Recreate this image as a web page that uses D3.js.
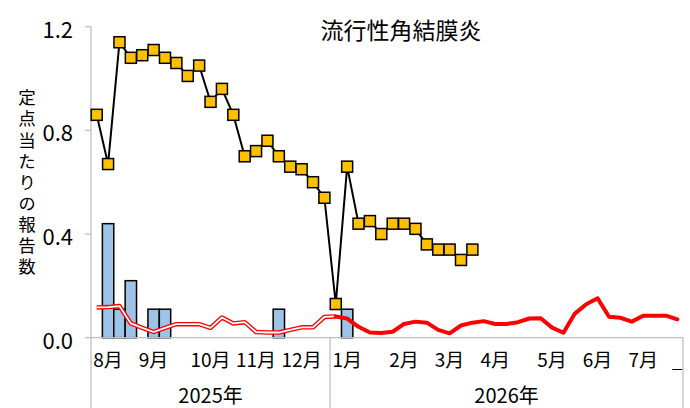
<!DOCTYPE html>
<html>
<head>
<meta charset="utf-8">
<script src="https://cdn.jsdelivr.net/npm/d3@7"></script>
<style>
  html, body { margin: 0; padding: 0; background: #fff; }
  svg { display: block; }
  text { font-family: "Noto Sans CJK JP", "Noto Sans", sans-serif; fill: #000; }
</style>
</head>
<body>
<svg id="chart" width="690" height="408"></svg>
<script>
// ---- data ----
const chartTitle = "流行性角結膜炎";
const yAxisTitle = "定点当たりの報告数";
const yTicks = [0.0, 0.4, 0.8, 1.2];
const monthLabels = ["", "8月", "", "", "", "9月", "", "", "", "", "10月", "", "", "", "11月", "", "", "", "12月", "", "", "",
  "1月", "", "", "", "", "2月", "", "", "", "3月", "", "", "", "4月", "", "", "", "", "5月", "", "", "", "6月", "", "", "", "7月", "", "", "_"];
const yearLabels = ["2025年", "2026年"];
const yearWeekCounts = [21, 31];
// current season (prefecture) per sentinel
const currentValues = [0.86, 0.67, 1.14, 1.08, 1.09, 1.11, 1.08, 1.06, 1.01, 1.05, 0.91, 0.96, 0.86, 0.70, 0.72, 0.76, 0.70,
  0.66, 0.65, 0.60, 0.54, 0.13, 0.66, 0.44, 0.45, 0.40, 0.44, 0.44, 0.42, 0.36, 0.34, 0.34, 0.30, 0.34];
// local area bars
const barValues = [0, 0.44, 0.11, 0.22, 0, 0.11, 0.11, 0, 0, 0, 0, 0, 0, 0, 0, 0, 0.11, 0, 0, 0, 0, 0, 0.11, 0, 0, 0, 0, 0, 0, 0, 0, 0, 0, 0];
// comparison line (red)
const redValues = [0.117, 0.118, 0.122, 0.055, 0.038, 0.022, 0.038, 0.052, 0.052, 0.052,
  0.038, 0.078, 0.055, 0.060, 0.022, 0.020, 0.020, 0.030, 0.040, 0.040,
  0.080, 0.082, 0.074, 0.042, 0.020, 0.018, 0.023, 0.053, 0.062, 0.058,
  0.030, 0.017, 0.047, 0.058, 0.064, 0.053, 0.053, 0.060, 0.074, 0.075,
  0.039, 0.019, 0.093, 0.129, 0.152, 0.081, 0.077, 0.062, 0.085, 0.085,
  0.085, 0.071];
const hollowEnd = 21; // red line drawn hollow up to this week index

// ---- layout ----
const svg = d3.select("#chart");
const pL = 91, pR = 683, pT = 26.7, pB = 337.7;
const weeks = d3.range(monthLabels.length);
const x = d3.scaleBand().domain(weeks).range([pL, pR]).padding(0);
const y = d3.scaleLinear().domain([0, 1.2]).range([pB, pT]);
const cx = i => x(i) + x.bandwidth() / 2;
const gray = "#bfbfbf";

// bars
svg.append("g").selectAll("rect").data(barValues.map((v, i) => ({v, i})).filter(d => d.v > 0))
  .join("rect")
  .attr("x", d => x(d.i)).attr("width", x.bandwidth())
  .attr("y", d => y(d.v)).attr("height", d => y(0) - y(d.v))
  .attr("fill", "#9dc3e6").attr("stroke", "#000").attr("stroke-width", 1.5);

// axes lines
svg.append("line").attr("x1", pL).attr("x2", pL).attr("y1", pT).attr("y2", 408)
  .attr("stroke", gray).attr("stroke-width", 1.3);
svg.append("line").attr("x1", pL).attr("x2", pR).attr("y1", pB).attr("y2", pB)
  .attr("stroke", gray).attr("stroke-width", 1.3);
yTicks.forEach(t => {
  svg.append("line").attr("x1", pL - 6).attr("x2", pL).attr("y1", y(t)).attr("y2", y(t))
    .attr("stroke", gray).attr("stroke-width", 1.3);
  svg.append("text").attr("x", 73).attr("y", y(t) + 1).attr("text-anchor", "end")
    .attr("dominant-baseline", "central").attr("font-size", 22).text(t.toFixed(1));
});

// red comparison line
const line = d3.line().x((d) => cx(d.i)).y(d => y(d.v));
const redPts = redValues.map((v, i) => ({v, i}));
const hollow = redPts.filter(d => d.i <= hollowEnd);
const solid = redPts.filter(d => d.i >= hollowEnd);
svg.append("path").attr("d", line(hollow)).attr("fill", "none").attr("stroke", "#ff0000")
  .attr("stroke-width", 4.5).attr("stroke-linejoin", "round");
svg.append("path").attr("d", line(hollow)).attr("fill", "none").attr("stroke", "#fff")
  .attr("stroke-width", 1.8).attr("stroke-linejoin", "round");
svg.append("path").attr("d", line(solid)).attr("fill", "none").attr("stroke", "#ff0000")
  .attr("stroke-width", 4).attr("stroke-linejoin", "round").attr("stroke-linecap", "round");

// current season line + markers
const curPts = currentValues.map((v, i) => ({v, i}));
svg.append("path").attr("d", line(curPts)).attr("fill", "none").attr("stroke", "#000").attr("stroke-width", 2);
const s = 11;
svg.append("g").selectAll("rect").data(curPts).join("rect")
  .attr("x", d => cx(d.i) - s / 2).attr("y", d => y(d.v) - s / 2)
  .attr("width", s).attr("height", s)
  .attr("fill", "#ffc000").attr("stroke", "#000").attr("stroke-width", 1.5);

// category labels
svg.append("g").selectAll("text").data(weeks.filter(i => monthLabels[i] !== "")).join("text")
  .attr("x", i => cx(i)).attr("y", 367).attr("text-anchor", "middle")
  .attr("font-size", 19)
  .attr("fill", i => monthLabels[i] === "_" ? "#999" : "#000")
  .text(i => monthLabels[i]);

// year groups
let start = 0;
yearLabels.forEach((lab, k) => {
  const end = start + yearWeekCounts[k];
  const x0 = x(start), x1 = end >= weeks.length ? pR : x(end);
  svg.append("line").attr("x1", x1).attr("x2", x1).attr("y1", pB).attr("y2", 408)
    .attr("stroke", gray).attr("stroke-width", 1.3);
  svg.append("text").attr("x", (x0 + x1) / 2).attr("y", 403).attr("text-anchor", "middle")
    .attr("font-size", 20).text(lab);
  start = end;
});

// title
svg.append("text").attr("x", 401).attr("y", 39).attr("text-anchor", "middle").attr("font-size", 23).text(chartTitle);

// y axis title (vertical, upright characters)
svg.append("text").attr("x", 27).attr("y", 89)
  .style("writing-mode", "vertical-rl").style("text-orientation", "upright")
  .attr("letter-spacing", 3.6).attr("font-size", 17.5).text(yAxisTitle);
</script>
</body>
</html>
